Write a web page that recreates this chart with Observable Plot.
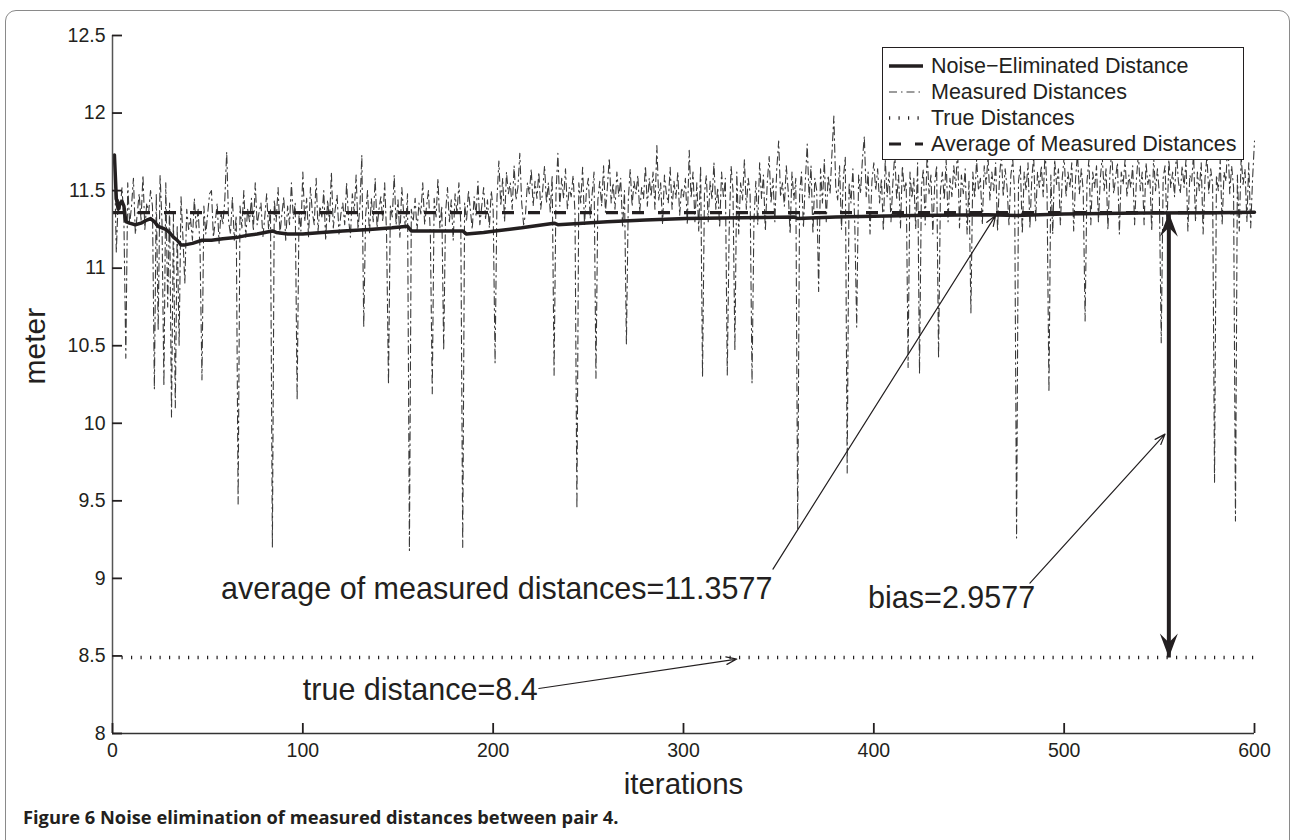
<!DOCTYPE html>
<html><head><meta charset="utf-8">
<script src="https://cdn.jsdelivr.net/npm/d3@7"></script>
<script src="https://cdn.jsdelivr.net/npm/@observablehq/plot@0.6"></script>
<style>
body{margin:0;background:#fff;}
#fig{position:relative;width:1292px;height:840px;overflow:hidden;background:#fff;font-family:"Liberation Sans",Arial,Helvetica,sans-serif;color:#231f20;}
#border{position:absolute;left:5px;top:10px;width:1285px;height:860px;border:1.5px solid #8a8a8a;border-radius:11px;box-sizing:border-box;}
#chart{position:absolute;left:0;top:0;}
#legend{position:absolute;left:882px;top:47px;width:362px;height:113px;border:1.3px solid #231f20;background:#fff;box-sizing:border-box;}
.row{position:absolute;left:0;height:26px;display:flex;align-items:center;font-size:21.5px;white-space:nowrap;}
.row svg{margin-left:6px;margin-right:8px;}
#caption{position:absolute;left:23px;top:804px;font-family:"Open Sans","Noto Sans",sans-serif;font-weight:700;font-size:18.3px;white-space:nowrap;}
</style>
</head><body>
<div id="fig">
  <div id="border"></div>
  <div id="chart"></div>
  <div id="legend"></div>
  <div id="caption"></div>
</div>
<script>
// ---- data ----
const xTicks = [0, 100, 200, 300, 400, 500, 600];
const yTicks = [8, 8.5, 9, 9.5, 10, 10.5, 11, 11.5, 12, 12.5];

// measured distances, iterations 1..600
const measured = [
11.72,11.10,11.45,11.38,11.52,11.30,10.42,11.55,11.28,11.40,11.58,11.22,11.35,11.48,11.31,11.60,11.25,11.42,11.36,11.50,
11.40,10.22,11.48,10.60,11.60,11.30,10.24,11.55,10.75,11.42,10.04,11.35,10.10,11.28,10.50,11.46,11.20,10.90,11.38,11.25,
11.32,11.18,11.45,11.26,11.38,11.12,10.28,11.40,11.22,11.35,11.48,11.50,11.20,11.30,11.42,11.16,11.36,11.28,11.44,11.75,
11.30,11.22,11.46,11.18,11.34,9.48,11.40,11.26,11.50,11.20,11.38,11.30,11.45,11.24,11.55,11.28,11.36,11.42,11.20,11.33,
11.48,11.25,11.38,9.20,11.44,11.30,11.52,11.22,11.35,11.46,11.18,11.40,11.28,11.55,11.32,11.42,10.15,11.36,11.24,11.62,
11.30,11.45,11.20,11.52,11.36,11.28,11.58,11.24,11.40,11.33,11.50,11.18,11.44,11.30,11.62,11.26,11.38,11.47,11.22,11.35,
11.42,11.28,11.55,11.32,11.20,11.48,11.36,11.60,11.25,11.40,11.73,10.62,11.34,11.50,11.22,11.45,11.30,11.58,11.26,11.38,
11.46,11.30,11.55,11.22,10.25,11.40,11.33,11.60,11.28,11.44,11.20,11.52,11.35,11.26,11.48,9.18,11.38,11.30,11.45,11.24,
11.42,11.35,11.55,11.28,11.40,11.50,11.22,10.19,11.45,11.33,11.58,11.26,11.40,10.47,11.36,11.52,11.30,11.44,11.18,11.48,
11.35,11.55,11.28,9.20,11.42,11.30,11.50,11.38,11.25,11.46,11.34,11.56,11.28,11.40,11.52,11.32,11.44,11.26,11.50,11.38,
10.39,11.45,11.69,11.40,11.58,11.30,11.62,11.48,11.55,11.38,11.66,11.44,11.52,11.74,11.42,11.28,11.35,11.55,11.48,11.64,
11.40,11.56,11.45,11.62,11.38,11.50,11.66,11.42,11.55,11.36,11.60,10.31,11.48,11.74,11.40,11.58,11.45,11.64,11.38,11.52,
11.46,11.60,11.35,9.45,11.55,11.42,11.65,11.28,11.50,11.58,11.32,11.48,11.62,10.29,11.44,11.56,11.40,11.66,11.36,11.52,
11.71,11.42,11.55,11.38,11.62,11.46,11.58,11.26,11.50,10.51,11.44,11.64,11.40,11.56,11.48,11.60,11.36,11.52,11.45,11.66,
11.40,11.58,11.46,11.62,11.38,11.79,11.44,11.55,11.28,11.60,11.48,11.42,11.65,11.38,11.56,11.45,11.62,11.34,11.52,11.46,
11.58,11.28,11.76,11.45,11.62,11.30,11.55,11.24,11.66,10.30,11.48,11.60,11.30,11.56,11.44,11.68,11.38,11.52,11.26,11.62,
11.45,11.58,10.31,11.25,11.66,11.50,10.47,11.62,11.22,11.55,11.44,11.70,11.38,11.58,11.48,10.26,11.30,11.56,11.28,11.68,
11.45,11.60,11.24,11.55,11.72,11.42,11.58,11.30,11.64,11.82,11.46,11.55,11.40,11.66,11.50,11.22,11.62,11.44,11.58,9.32,
11.48,11.62,11.26,11.56,11.80,11.45,11.66,11.22,11.58,11.50,10.85,11.64,11.42,11.70,11.30,11.60,11.48,11.74,11.98,11.52,
11.44,11.66,11.25,11.58,11.72,9.68,11.55,11.42,11.64,11.28,10.62,11.60,11.48,11.70,11.85,11.46,11.62,11.22,11.56,11.68,
11.50,11.64,11.42,11.58,11.24,11.70,11.46,11.62,11.30,11.55,11.74,11.44,11.60,11.26,11.66,11.50,11.56,10.36,11.62,11.45,
11.58,11.25,11.68,10.32,11.52,11.64,11.28,11.75,11.48,11.60,11.22,11.55,11.66,10.42,11.50,11.62,11.44,11.70,11.30,11.58,
11.46,11.66,11.52,11.78,11.26,11.60,11.48,11.64,11.22,11.56,10.71,11.62,11.45,11.70,11.50,11.58,11.28,11.66,11.54,11.72,
11.44,11.62,11.50,11.68,11.24,11.58,11.74,11.46,11.64,11.52,11.28,11.60,11.70,11.48,9.26,11.56,11.66,11.22,11.62,11.50,
11.68,11.26,11.58,11.72,11.30,11.62,11.52,11.66,11.46,11.76,11.50,10.20,11.60,11.22,11.70,11.54,11.64,11.28,11.58,11.72,
11.46,11.62,11.52,11.68,11.24,11.58,11.74,11.48,11.64,11.50,10.66,11.56,11.70,11.28,11.62,11.52,11.66,11.30,11.58,11.72,
11.50,11.64,11.25,11.60,11.76,11.48,11.58,11.68,11.22,11.62,11.54,11.70,11.46,11.60,11.52,11.66,11.28,11.58,11.74,11.50,
11.62,11.28,11.68,11.54,11.60,11.24,11.72,11.50,11.64,11.48,10.52,11.58,11.66,11.26,11.70,11.52,11.62,11.46,11.76,11.56,
11.48,11.66,11.52,11.70,11.24,11.60,11.56,11.74,11.30,11.62,11.50,11.68,11.22,11.58,11.72,11.48,11.64,11.54,9.62,11.60,
11.50,11.70,11.28,11.62,11.56,11.85,11.48,11.66,11.52,9.37,11.60,11.24,11.72,11.54,11.64,11.30,11.68,11.26,11.58,11.82
];

// noise-eliminated distance [iteration, value]
const noiseElim = [
[1,11.73],[2,11.45],[3,11.38],[4,11.42],[5,11.43],[6,11.40],[7,11.30],[9,11.29],[12,11.28],[15,11.29],[18,11.31],[20,11.32],
[22,11.30],[24,11.27],[26,11.26],[28,11.25],[30,11.23],[32,11.20],[34,11.18],[36,11.15],[38,11.15],[42,11.16],[47,11.18],
[52,11.18],[58,11.19],[66,11.20],[70,11.21],[76,11.22],[84,11.24],[86,11.23],[92,11.22],[100,11.22],[110,11.23],[121,11.24],
[135,11.25],[147,11.26],[155,11.27],[157,11.24],[170,11.24],[184,11.24],[186,11.22],[195,11.23],[201,11.24],[215,11.26],
[232,11.29],[234,11.28],[260,11.30],[280,11.31],[301,11.32],[330,11.325],[358,11.33],[360,11.32],[380,11.33],[420,11.34],
[460,11.345],[475,11.34],[500,11.35],[540,11.355],[580,11.358],[600,11.36]
];

const averageMeasured = 11.3577;
const trueDistanceLine = 8.49;

const annotations = [
  {label: "average of measured distances=11.3577", x: 57, y: 8.93},
  {label: "true distance=8.4", x: 100, y: 8.28},
  {label: "bias=2.9577", x: 397, y: 8.87}
];
const pointers = [
  {x1: 347, y1: 9.06, x2: 464, y2: 11.34},
  {x1: 224, y1: 8.29, x2: 328, y2: 8.48},
  {x1: 482, y1: 8.97, x2: 553, y2: 9.93}
];
const biasAt = 555;

const legendItems = [
  {label: "Noise\u2212Eliminated Distance", kind: "solid"},
  {label: "Measured Distances", kind: "dashdot"},
  {label: "True Distances", kind: "dotted"},
  {label: "Average of Measured Distances", kind: "dashed"}
];

// ---- styles ----
const ink = "#231f20";
const lineStyles = {
  solid:   {stroke: ink, strokeWidth: 3.5, dash: null},
  dashdot: {stroke: "#3a3a3a", strokeWidth: 1.1, dash: "8,4,1.5,4"},
  dotted:  {stroke: ink, strokeWidth: 3.5, dash: "1.2,8.3"},
  dashed:  {stroke: ink, strokeWidth: 3.2, dash: "12,14"}
};

const measuredData = measured.map((v, k) => ({i: k + 1, v}));

// barbed arrowheads (tip at origin)
function barb(dir) {
  return {draw(ctx, size) {
    const r = Math.sqrt(size / Math.PI);
    const L = r * 2, w = r * 0.75, n = L * 0.62;
    ctx.moveTo(0, 0);
    ctx.lineTo(-w, -dir * L);
    ctx.lineTo(0, -dir * n);
    ctx.lineTo(w, -dir * L);
    ctx.closePath();
  }};
}

const chart = Plot.plot({
  width: 1292,
  height: 800,
  marginLeft: 112,
  marginRight: 38,
  marginTop: 35,
  marginBottom: 67,
  style: {fontFamily: '"Liberation Sans", Arial, Helvetica, sans-serif', color: ink, background: "transparent"},
  x: {domain: [0, 600]},
  y: {domain: [8, 12.5]},
  marks: [
    Plot.line(measuredData, {x: "i", y: "v", stroke: lineStyles.dashdot.stroke, strokeWidth: lineStyles.dashdot.strokeWidth, strokeDasharray: lineStyles.dashdot.dash}),
    Plot.ruleY([trueDistanceLine], {stroke: lineStyles.dotted.stroke, strokeWidth: lineStyles.dotted.strokeWidth, strokeDasharray: lineStyles.dotted.dash}),
    Plot.ruleY([averageMeasured], {stroke: lineStyles.dashed.stroke, strokeWidth: lineStyles.dashed.strokeWidth, strokeDasharray: lineStyles.dashed.dash}),
    Plot.line(noiseElim, {x: d => d[0], y: d => d[1], stroke: ink, strokeWidth: 3.5, strokeLinejoin: "round"}),
    // axes
    Plot.ruleX([0], {stroke: "#555", strokeWidth: 1.5}),
    Plot.ruleY([8], {stroke: "#333", strokeWidth: 1.5}),
    Plot.axisY({ticks: yTicks, tickSize: -10, tickPadding: 17, fontSize: 19.5, label: null, stroke: ink, strokeWidth: 1.8, tickFormat: d => String(d)}),
    Plot.axisX({ticks: xTicks, tickSize: -10, tickPadding: 20, fontSize: 19.5, label: null, stroke: ink, strokeWidth: 1.8, tickFormat: d => String(d)}),
    Plot.text(["meter"], {frameAnchor: "left", dx: -77, rotate: -90, fontSize: 30, fill: ink}),
    Plot.text(["iterations"], {frameAnchor: "bottom", dy: 51, fontSize: 29.5, fill: ink, lineAnchor: "middle"}),
    // annotations
    Plot.arrow(pointers, {x1: "x1", y1: "y1", x2: "x2", y2: "y2", stroke: ink, strokeWidth: 1.2, headLength: 14, headAngle: 40}),
    Plot.text(annotations, {x: "x", y: "y", text: "label", textAnchor: "start", lineAnchor: "middle", fontSize: 30.5, fill: ink}),
    Plot.link([{x: biasAt, y1: averageMeasured, y2: trueDistanceLine}], {x1: "x", x2: "x", y1: "y1", y2: "y2", stroke: ink, strokeWidth: 4, insetTop: 10, insetBottom: 10}),
    Plot.dot([{x: biasAt, y: trueDistanceLine}], {x: "x", y: "y", symbol: barb(1), r: 12, fill: ink, stroke: "none"}),
    Plot.dot([{x: biasAt, y: averageMeasured}], {x: "x", y: "y", symbol: barb(-1), r: 12, fill: ink, stroke: "none"})
  ]
});
document.getElementById("chart").appendChild(chart);

// legend
const legend = document.getElementById("legend");
legendItems.forEach((it, k) => {
  const s = lineStyles[it.kind];
  const row = document.createElement("div");
  row.className = "row";
  row.style.top = (5 + k * 26) + "px";
  row.innerHTML = `<svg width="34" height="26"><line x1="0" x2="34" y1="13" y2="13" stroke="${s.stroke}" stroke-width="${s.strokeWidth}" ${s.dash ? `stroke-dasharray="${s.dash}"` : ""}/></svg><span>${it.label}</span>`;
  legend.appendChild(row);
});

document.getElementById("caption").innerHTML = "Figure 6 Noise elimination of measured distances between pair 4.";
</script>
</body></html>
